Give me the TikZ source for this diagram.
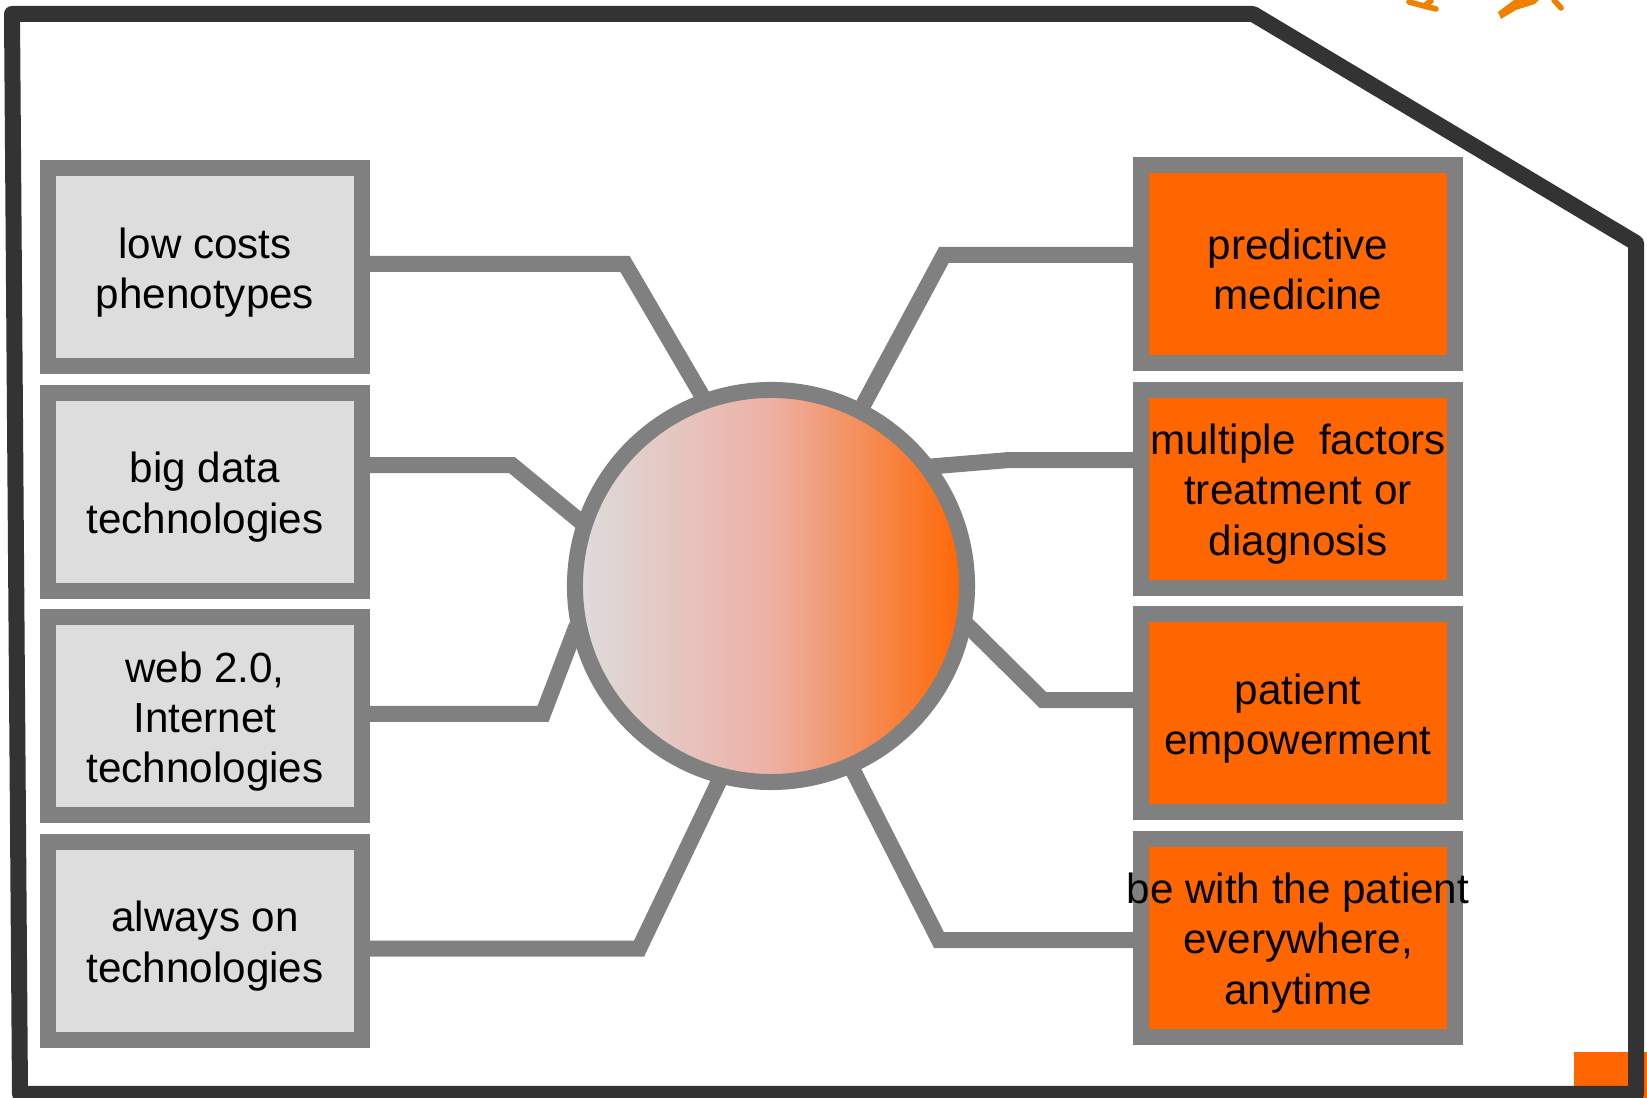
\documentclass[tikz,border=0pt]{standalone}
\usepackage{fontspec}
\setmainfont{Liberation Sans}
\usetikzlibrary{positioning}
\usetikzlibrary{backgrounds}
\definecolor{framegray}{HTML}{333333}
\definecolor{edgegray}{HTML}{808080}
\definecolor{cellgray}{HTML}{DDDDDD}
\definecolor{cellorange}{HTML}{FF6600}
\definecolor{midpink}{HTML}{EDB0A5}
\definecolor{logoorange}{HTML}{F08000}
\newcommand\lift{\rule{0pt}{11.8pt}}
\tikzset{
cause/.style={
  rectangle,
  minimum width=89.3pt,
  minimum height=56.3pt,
  inner sep=1pt,
  align=center,
  line width=4.55pt,
  draw=edgegray,
  fill=cellgray,
  font=\fontsize{12pt}{14.3pt}\selectfont
  },
effect/.style={cause, fill=cellorange},
link/.style={draw=edgegray, line width=4.55pt, shorten >=-3pt}
}

\begin{document}
\begin{tikzpicture}[x=0.01cm,y=-0.01cm,node distance=3pt]
    \useasboundingbox (0,0) rectangle (1647,1098);
    % frame and the bits of the logo cut off at the edges
    \fill[cellorange] (1574,1052) rectangle (1647,1098);
    \draw[framegray,line width=4.55pt,line join=round]
      (12,14) -- (1253,14) -- (1636,243) -- (1636,1094) -- (20,1094) -- cycle;
    \draw[logoorange,line width=1.6pt,line cap=round]
      (1409,2) -- (1424,6) -- (1436,9) (1424,6) -- (1431,1);
    \fill[logoorange] (1498,12) -- (1501,19) -- (1516,10) -- (1535,4) -- (1539,0)
      -- (1514,0) -- (1506,6) -- cycle;
    \draw[logoorange,line width=1.6pt,line cap=round] (1554,0) -- (1561,8);

    \node[cause] (lowcost) at (205,267) {\lift low costs\\phenotypes};
    \node[cause] (bigdata) [below=of lowcost] {\lift big data\\technologies};
    \node[cause] (web)     [below=of bigdata] {\lift web 2.0,\\Internet\\technologies};
    \node[cause] (always)  [below=of web] {\lift always on\\technologies};

    \node[effect] (predict) at (1298,264) {\lift predictive\\medicine};
    \node[effect] (multi)   [below=of predict] {\lift multiple~ factors\\treatment or\\diagnosis};
    \node[effect] (empower) [below=of multi] {\lift patient\\empowerment};
    \node[effect] (anytime) [below=of empower] {\lift\makebox[0pt]{be with the patient}\\everywhere,\\anytime};

    \node[circle, minimum size=111.5pt, inner sep=0pt, line width=4.55pt, draw=edgegray,
      left color=cellgray, right color=cellorange, middle color=midpink] (hub) at (771,586) {};

    \begin{scope}[on background layer]
    \draw[link] ([yshift=0.85pt]lowcost.east) -- ++(255,0) -- (hub.110);
    \draw[link] ([yshift=7.5pt]bigdata.east) -- ++(142,0) -- (hub.161);
    \draw[link] ([yshift=0.6pt]web.east) -- ++(173,0) -- (hub.194);
    \draw[link] ([yshift=-2.3pt]always.east) -- ++(269,0) -- (hub.255);
    \draw[link] ([yshift=2.6pt]predict.west) -- ++(-189,0) -- (hub.63);
    \draw[link] ([yshift=8.1pt]multi.west) -- ++(-124,0) -- (hub.36);
    \draw[link] ([yshift=3.7pt]empower.west) -- ++(-90,0) -- (hub.-12);
    \draw[link] ([yshift=-0.7pt]anytime.west) -- ++(-194,0) -- (hub.-66);
    \end{scope}
\end{tikzpicture}
\end{document}
